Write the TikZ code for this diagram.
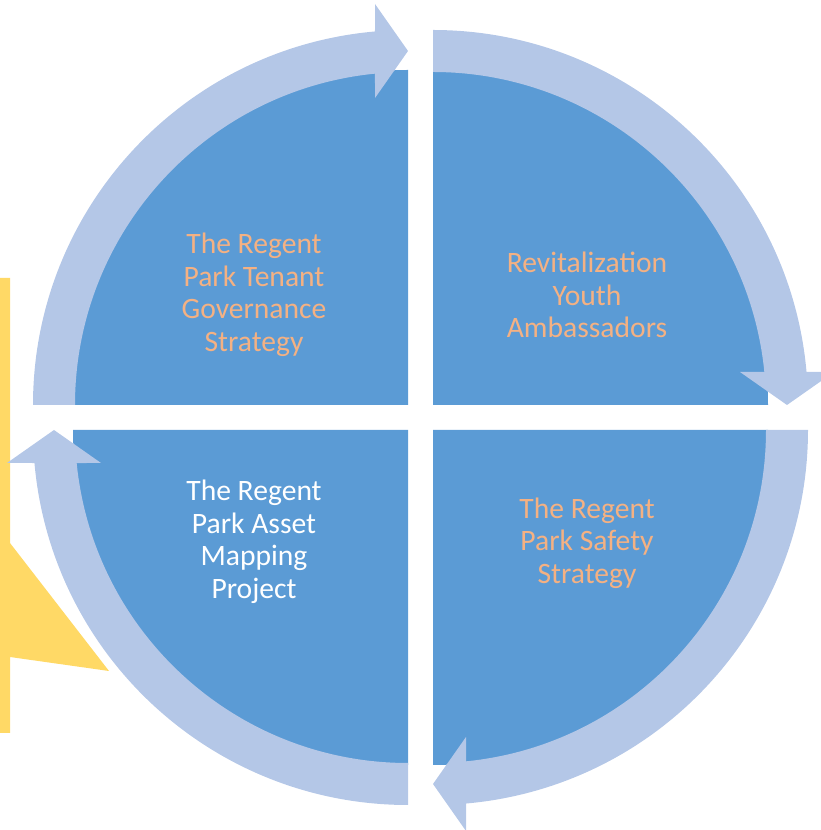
\documentclass[tikz,border=0pt]{standalone}
\usepackage{fontspec}
\setmainfont{Carlito}
\usepackage{xcolor}
\usepackage{tikz}
\definecolor{quadblue}{HTML}{5B9BD5}
\definecolor{arcblue}{HTML}{B4C7E7}
\definecolor{calloutyellow}{HTML}{FFD966}
\definecolor{labelpeach}{HTML}{F4B183}
\tikzset{
    quad/.style = {fill=quadblue, draw=none},
    cyclearc/.style = {fill=arcblue, draw=none},
    callout/.style = {fill=calloutyellow, draw=none},
    qlabel/.style = {align=center, inner sep=0pt, text centered, font=\fontsize{29.6}{32.5}\selectfont, text=labelpeach},
    qlabel white/.style = {qlabel, text=white}
}

\begin{document}
\begin{tikzpicture}[x=1pt, y=1pt]
    \useasboundingbox (0,0) rectangle (821,830);

    \path[callout] (0,552) -- (10,552) -- (10,287) -- (109,159) -- (10,173) -- (10,97) -- (0,97) -- cycle;

    % four quadrants, each with its arrow
    \foreach \cx/\cy/\rot in {408/425/0, 433/425/-90, 433/400/-180, 408/400/-270}{
        \begin{scope}[shift={(\cx,\cy)}, rotate=\rot]
            \path[quad] (0,0) -- (180:335) arc[start angle=180, end angle=90, radius=335] -- cycle;
            \path[cyclearc] (180:333) -- (180:375) arc[start angle=180, end angle=95.05, radius=375]
                -- (-33,401) -- (0,354) -- (-33,307) -- (95.69:333)
                arc[start angle=95.69, end angle=180, radius=333] -- cycle;
        \end{scope}
    }

    \node[qlabel] (tenant) at (254,535) {The Regent\\Park Tenant\\Governance\\Strategy};
    \node[qlabel] (youth) at (587,535) {Revitalization\\Youth\\Ambassadors};
    \node[qlabel white] (asset) at (254,288) {The Regent\\Park Asset\\Mapping\\Project};
    \node[qlabel] (safety) at (587,287) {The Regent\\Park Safety\\Strategy};
\end{tikzpicture}
\end{document}
